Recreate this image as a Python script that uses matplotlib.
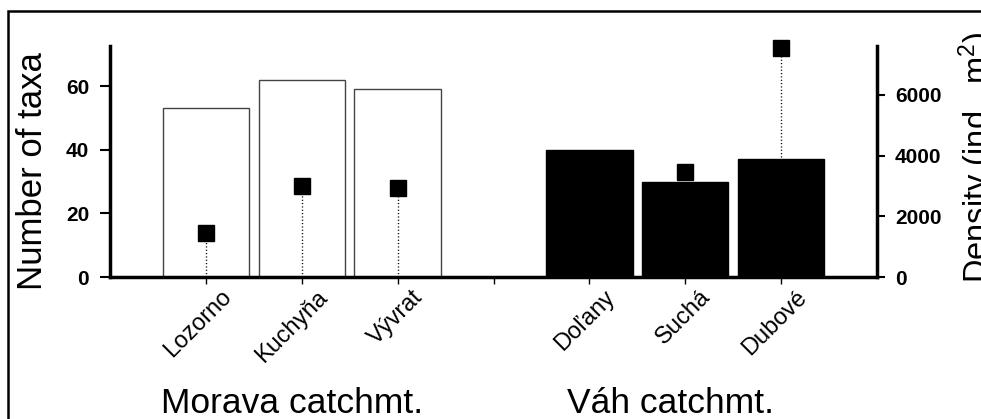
import numpy as np
import matplotlib
matplotlib.use('Agg')
import matplotlib.pyplot as plt
import matplotlib.patches as patches
import matplotlib.transforms as mtransforms

plt.rcParams['font.family'] = ['Liberation Sans', 'DejaVu Sans']
plt.rcParams['mathtext.fontset'] = 'custom'
plt.rcParams['mathtext.rm'] = 'Liberation Sans'
plt.rcParams['mathtext.it'] = 'Liberation Sans'

# Data
sites = ['Lozorno', 'Kuchyňa', 'Vývrat', '', 'Doľany', 'Suchá', 'Dubové']
positions = [1, 2, 3, 4, 5, 6, 7]
taxa = [53, 62, 59, np.nan, 40, 30, 37]
density = [1450, 3000, 2950, np.nan, np.nan, 3450, 7550]
bar_colors = ['white', 'white', 'white', 'white', 'black', 'black', 'black']
groups = ['Morava catchmt.', 'Váh catchmt.']
group_x = [1.9, 5.85]

fig = plt.figure(figsize=(9.81, 4.19), dpi=100)
W, H = 981, 419
ax = fig.add_axes([110 / W, 142 / H, 767 / W, 231 / H])
ax2 = ax.twinx()

# bars: number of taxa
for x, v, c in zip(positions, taxa, bar_colors):
    if np.isnan(v):
        continue
    ax.bar(x, v, width=0.9, color=c, edgecolor='#444444' if c == 'white' else 'black',
           linewidth=1.0, zorder=2)

ax.set_xlim(0, 8)
ax.set_ylim(0, 72.6)
ax.set_yticks([0, 20, 40, 60])
ax.set_xticks(positions)
ax.set_xticklabels([])

# rotated site names, right end sits a bit right of the tick
trans = mtransforms.blended_transform_factory(ax.transData, fig.transFigure)
off = mtransforms.ScaledTranslation(0.30, 0, fig.dpi_scale_trans)
for x, s in zip(positions, sites):
    ax.text(x, 1 - 286 / H, s, transform=trans + off, rotation=45,
            ha='right', va='top', fontsize=17)

ax.tick_params(axis='y', direction='out', length=7, width=1.5, pad=8, labelsize=15)
ax.tick_params(axis='x', direction='out', length=5, width=1.0, pad=4)
for lab in ax.get_yticklabels():
    lab.set_fontweight('bold')
for s in ['top', 'right']:
    ax.spines[s].set_visible(False)
ax.spines['left'].set_linewidth(2.5)
ax.spines['bottom'].set_linewidth(2.5)

# density: squares with dotted stems
for x, d in zip(positions, density):
    if np.isnan(d):
        continue
    ax2.plot([x, x], [0, d], color='black', lw=1.0, linestyle=(0, (0.8, 1.6)), zorder=3)
    ax2.plot(x, d, marker='s', ms=11, color='black', linestyle='none', zorder=4, clip_on=False)

ax2.set_ylim(0, 7615)
ax2.set_yticks([0, 2000, 4000, 6000])
ax2.tick_params(axis='y', direction='out', length=6, width=1.5, pad=7, labelsize=15)
for lab in ax2.get_yticklabels():
    lab.set_fontweight('bold')
for s in ['top', 'left', 'bottom']:
    ax2.spines[s].set_visible(False)
ax2.spines['right'].set_linewidth(2.5)

# axis titles
fig.text(33 / W, 1 - 171 / H, 'Number of taxa', rotation=90, ha='center', va='center', fontsize=25)
fig.text(957 / W, 1 - 283 / H, 'Density (ind . m$^2$)', rotation=90, ha='left', va='bottom', fontsize=23.5)

# catchment labels
for gx, g in zip(group_x, groups):
    ax.text(gx, 6 / H, g, transform=trans, ha='center', va='baseline', fontsize=25.5)

# figure frame (cropped on the right and bottom)
frame = patches.Rectangle((8 / W, -0.1), 1.2, 1.1 - 11.5 / H, transform=fig.transFigure,
                          fill=False, edgecolor='black', linewidth=1.8)
fig.patches.append(frame)

plt.savefig('out.png', dpi=100)
